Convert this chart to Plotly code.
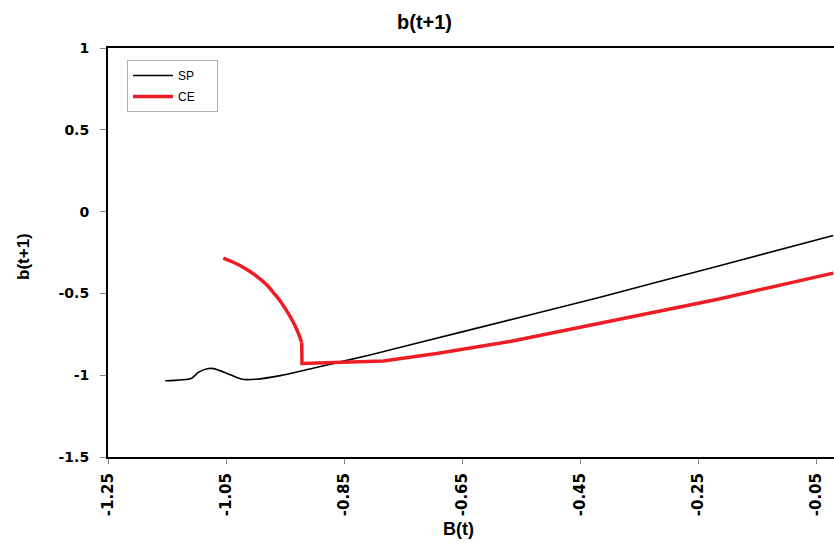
import plotly.graph_objects as go

# B(t) values and b(t+1) readings for the two rules
sp_x = [-1.153, -1.109, -1.097, -1.082, -1.071, -1.049, -1.023, -1.000,
        -0.956, -0.899, -0.806, -0.650, -0.416, -0.220, -0.0207]
sp_y = [-1.034, -1.020, -0.983, -0.960, -0.960, -0.988, -1.025, -1.025,
        -1.001, -0.954, -0.876, -0.735, -0.523, -0.337, -0.146]

# CE: the curved upper branch, then the jump down and the lower branch
ce_arc_x = [-1.0546, -1.0404, -1.0234, -1.0093, -0.9953, -0.9810, -0.9698, -0.9585,
            -0.9471, -0.9387, -0.9302, -0.9246, -0.9217]
ce_arc_y = [-0.284, -0.305, -0.335, -0.366, -0.403, -0.447, -0.495, -0.545,
            -0.607, -0.658, -0.719, -0.770, -0.801]
ce_low_x = [-0.9217, -0.9212, -0.7834, -0.6929, -0.5686, -0.4161, -0.2183, -0.0207]
ce_low_y = [-0.801, -0.928, -0.913, -0.868, -0.794, -0.682, -0.537, -0.376]

x_ticks = [-1.25, -1.05, -0.85, -0.65, -0.45, -0.25, -0.05]
x_labels = ["-1.25", "-1.05", "-0.85", "-0.65", "-0.45", "-0.25", "-0.05"]
y_ticks = [1, 0.5, 0, -0.5, -1, -1.5]
y_labels = ["1", "0.5", "0", "-0.5", "-1", "-1.5"]

W, H = 834, 546
L, R, T, B = 108, 0, 48, 546 - 457

red = "#ee1c25"
pad = "\u00a0" * 5

fig = go.Figure()
fig.add_trace(go.Scatter(x=sp_x, y=sp_y, mode="lines", name="SP" + pad,
                         line=dict(color="black", width=1.6, shape="spline", smoothing=0.6),
                         legendgroup="a"))
fig.add_trace(go.Scatter(x=ce_low_x, y=ce_low_y, mode="lines", name="CE" + pad,
                         line=dict(color=red, width=3.5),
                         legendgroup="b"))
fig.add_trace(go.Scatter(x=ce_arc_x, y=ce_arc_y, mode="lines", name="CE",
                         line=dict(color=red, width=3.5, shape="spline", smoothing=1.0),
                         legendgroup="b", showlegend=False))

tick_x_font = dict(family="DejaVu Sans", size=15, color="black", weight="bold")
tick_y_font = dict(family="DejaVu Sans", size=14, color="black", weight="bold")
label_font = dict(family="Liberation Sans, Arial", size=18, color="black", weight="bold")


# page pixel -> fraction of the plot area
def fx(px):
    return (px - L) / (W - L - R)


def fy(py):
    return (H - B - py) / (H - T - B)


fig.update_layout(
    width=W, height=H,
    margin=dict(l=L, r=R, t=T, b=B),
    plot_bgcolor="white", paper_bgcolor="white",
    font=dict(family="Liberation Sans, Arial", color="black"),
    title=dict(text="b(t+1)", x=424.5 / W, xanchor="center",
               y=1 - 22 / H, yanchor="middle",
               font=dict(family="Liberation Sans, Arial", size=20, color="black", weight="bold")),
    showlegend=True,
    legend=dict(x=fx(127), y=fy(60), xanchor="left", yanchor="top",
                bordercolor="#b0b0b0", borderwidth=1, bgcolor="white",
                font=dict(family="Liberation Sans, Arial", size=12, color="black"),
                traceorder="grouped", tracegroupgap=2, itemwidth=40),
    xaxis=dict(range=[-1.25, -0.0195], tickvals=x_ticks, ticktext=x_labels,
               tickangle=-90, tickfont=tick_x_font, showgrid=False, zeroline=False,
               showline=True, linecolor="black", linewidth=2, mirror=True,
               ticks="outside", tickcolor="#888888", ticklen=5, automargin=False,
               ticklabelstandoff=3),
    yaxis=dict(range=[-1.5, 1], tickvals=y_ticks, ticktext=y_labels,
               tickfont=tick_y_font, showgrid=False, zeroline=False,
               showline=True, linecolor="black", linewidth=2, mirror=True,
               ticks="outside", tickcolor="#888888", ticklen=6, automargin=False,
               ticklabelstandoff=8),
    annotations=[
        dict(text="B(t)", x=fx(458.5), y=fy(529), xref="paper", yref="paper",
             showarrow=False, font=label_font, xanchor="center", yanchor="middle"),
        dict(text="b(t+1)", x=fx(23), y=fy(257), xref="paper", yref="paper",
             showarrow=False, font=dict(label_font, size=17), textangle=-90,
             xanchor="center", yanchor="middle"),
    ],
)

# drop the browser's default body margin so the figure fills the window
fig.write_html("out.html", config={"displayModeBar": False},
               post_script="document.body.style.margin='0';")
